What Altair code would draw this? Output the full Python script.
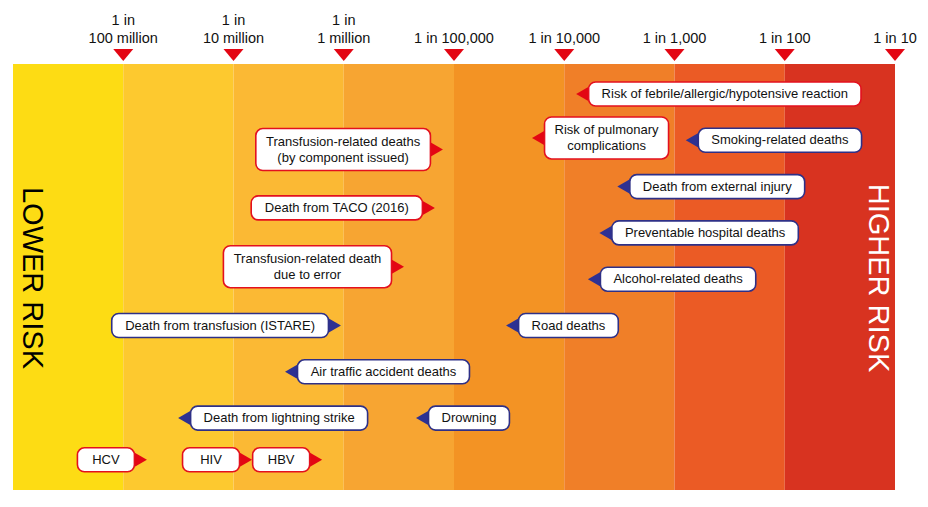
import math
import altair as alt
import pandas as pd

# ------------------------------------------------------------------ data
# axis: risk expressed as "1 in N" (log scale, decades)
tick_one_in = [100_000_000, 10_000_000, 1_000_000, 100_000, 10_000, 1_000, 100, 10]
tick_labels = ["1 in\n100 million", "1 in\n10 million", "1 in\n1 million",
               "1 in 100,000", "1 in 10,000", "1 in 1,000", "1 in 100", "1 in 10"]

# background risk bands (one per decade, 1 in 1e9 .. 1 in 10)
band_from = [1_000_000_000, 100_000_000, 10_000_000, 1_000_000, 100_000, 10_000, 1_000, 100]
band_to = [100_000_000, 10_000_000, 1_000_000, 100_000, 10_000, 1_000, 100, 10]

# annotated risks (value = "1 in N")
risk_labels = [
    "Risk of febrile/allergic/hypotensive reaction",
    "Risk of pulmonary\ncomplications",
    "Smoking-related deaths",
    "Transfusion-related deaths\n(by component issued)",
    "Death from external injury",
    "Death from TACO (2016)",
    "Preventable hospital deaths",
    "Transfusion-related death\ndue to error",
    "Alcohol-related deaths",
    "Death from transfusion (ISTARE)",
    "Road deaths",
    "Air traffic accident deaths",
    "Death from lightning strike",
    "Drowning",
    "HCV",
    "HIV",
    "HBV",
]
risk_one_in = [7_800, 19_600, 790, 126_000, 3_300, 149_000, 4_800, 284_000, 6_100,
               1_060_000, 33_700, 3_410_000, 31_800_000, 221_000,
               61_000_000, 6_790_000, 1_570_000]
risk_group = ["transfusion", "transfusion", "other", "transfusion", "other", "transfusion",
              "other", "transfusion", "other", "other", "other", "other", "other", "other",
              "transfusion", "transfusion", "transfusion"]
risk_pointer = ["left", "left", "left", "right", "left", "right", "left", "right", "left",
                "right", "left", "left", "left", "left", "right", "right", "right"]
# vertical slot (row) of each label
risk_row = [0, 0.95, 1.0, 1.2, 2.0, 2.46, 3.0, 3.73, 4.0, 5.0, 5.0, 6.0, 7.0, 7.0, 7.9, 7.9, 7.9]

# ------------------------------------------------------------------ styles
band_palette = ["#FDDC14", "#FDC92F", "#FBB934", "#F7A532", "#F39324", "#F07F28", "#EB5B25", "#D83320"]
group_stroke = {"transfusion": "#E3101E", "other": "#2E3087"}
group_fill = {"transfusion": "#E30613", "other": "#2E3192"}
FONT = "Liberation Sans"
W, H = 882, 426
PPD = W / 8.0          # pixels per decade
ROW_PX = 46.3          # pixels per row
ROW0 = 30              # pixel offset of row 0 from top
LABEL_FS = 13
LABEL_LH = 16
TICK_FS = 14.5
TICK_LH = 18
GAP = 12.5             # distance pointer tip -> box edge (px)

# Arial/Liberation Sans advance widths (1/1000 em) for box sizing
_w = {' ': 278, '(': 333, ')': 333, '-': 333, '/': 278, ',': 278, '.': 278,
      'A': 667, 'B': 667, 'C': 722, 'D': 722, 'E': 667, 'F': 611, 'G': 778, 'H': 722,
      'I': 278, 'J': 500, 'K': 667, 'L': 556, 'M': 833, 'N': 722, 'O': 778, 'P': 667,
      'Q': 778, 'R': 722, 'S': 667, 'T': 611, 'U': 722, 'V': 667, 'W': 944, 'X': 667,
      'Y': 667, 'Z': 611, 'a': 556, 'b': 556, 'c': 500, 'd': 556, 'e': 556, 'f': 278,
      'g': 556, 'h': 556, 'i': 222, 'j': 222, 'k': 500, 'l': 222, 'm': 833, 'n': 556,
      'o': 556, 'p': 556, 'q': 556, 'r': 333, 's': 500, 't': 278, 'u': 556, 'v': 500,
      'w': 722, 'x': 500, 'y': 500, 'z': 500}


def text_px(s, fs):
    return max(sum(_w.get(c, 556) for c in line) for line in s.split("\n")) * fs / 1000.0


def dec(n):
    return -math.log10(n)


def px_to_row(p):
    return (p - ROW0) / ROW_PX


# ------------------------------------------------------------------ tables
bands = pd.DataFrame({"lo": [dec(v) for v in band_from], "hi": [dec(v) for v in band_to],
                      "color": band_palette})
ticks = pd.DataFrame({
    "lx": [dec(v) for v in tick_one_in],
    "label": tick_labels,
    # last line sits 17px above the band; earlier lines stacked above it
    "ty": [px_to_row(-25 - (lab.count("\n")) * TICK_LH) for lab in tick_labels],
})

rows = []
for lab, n, g, p, r in zip(risk_labels, risk_one_in, risk_group, risk_pointer, risk_row):
    lx = dec(n)
    two = "\n" in lab
    bw = max(text_px(lab, LABEL_FS) + (20 if two else 26), 57)
    if p == "right":
        bx1 = lx - GAP / PPD
        bx0 = bx1 - bw / PPD
        path = "M0,0L-1.73,-1L-1.73,1Z"
    else:
        bx0 = lx + GAP / PPD
        bx1 = bx0 + bw / PPD
        path = "M0,0L1.73,-1L1.73,1Z"
    half = (21 if two else 12) / ROW_PX
    rows.append({"label": lab, "lx": lx, "bx0": bx0, "bx1": bx1, "cx": (bx0 + bx1) / 2,
                 "row": r, "ty": r - (LABEL_LH / 2 if two else 0) / ROW_PX,
                 "y0": r - half, "y1": r + half, "path": path,
                 "stroke": group_stroke[g], "fill": group_fill[g]})
risks = pd.DataFrame(rows)

xscale = alt.Scale(domain=[-9, -1], nice=False, zero=False)
yscale = alt.Scale(domain=[px_to_row(0), px_to_row(H)], reverse=True, nice=False, zero=False)

band_layer = alt.Chart(bands).mark_rect().encode(
    x=alt.X("lo:Q", scale=xscale, axis=None),
    x2="hi:Q",
    y=alt.value(0), y2=alt.value(H),
    color=alt.Color("color:N", scale=None),
)

tick_tri = alt.Chart(ticks).mark_point(
    shape="M-1,-0.6L1,-0.6L0,0.6Z", size=400, filled=True, opacity=1,
    color="#E30613", strokeWidth=0
).encode(x=alt.X("lx:Q", scale=xscale, axis=None), y=alt.value(-9))

tick_text = alt.Chart(ticks).mark_text(
    font=FONT, fontSize=TICK_FS, lineBreak="\n", lineHeight=TICK_LH, baseline="middle",
    align="center", color="#111111"
).encode(x=alt.X("lx:Q", scale=xscale, axis=None),
         y=alt.Y("ty:Q", scale=yscale, axis=None), text="label:N")

pointer = alt.Chart(risks).mark_point(filled=True, size=225, opacity=1, strokeWidth=0).encode(
    x=alt.X("lx:Q", scale=xscale, axis=None),
    y=alt.Y("row:Q", scale=yscale, axis=None),
    shape=alt.Shape("path:N", scale=None),
    color=alt.Color("fill:N", scale=None),
)

boxes = alt.Chart(risks).mark_rect(cornerRadius=7, fill="white", strokeWidth=1.6).encode(
    x=alt.X("bx0:Q", scale=xscale, axis=None), x2="bx1:Q",
    y=alt.Y("y0:Q", scale=yscale, axis=None), y2="y1:Q",
    stroke=alt.Stroke("stroke:N", scale=None),
)

labels = alt.Chart(risks).mark_text(
    font=FONT, fontSize=LABEL_FS, lineBreak="\n", lineHeight=LABEL_LH, baseline="middle",
    align="center", color="#111111"
).encode(
    x=alt.X("cx:Q", scale=xscale, axis=None),
    y=alt.Y("ty:Q", scale=yscale, axis=None),
    text="label:N",
)

side = pd.DataFrame({"t": ["LOWER RISK", "HIGHER RISK"], "c": ["#000000", "#FFFFFF"],
                     "px": [19, 865]})
side_text = alt.Chart(side).mark_text(
    font=FONT, fontSize=29, angle=90, align="center", baseline="middle"
).encode(
    x=alt.X("px:Q", scale=None), y=alt.value(214), text="t:N",
    color=alt.Color("c:N", scale=None),
)

chart = alt.layer(band_layer, tick_tri, tick_text, pointer, boxes, labels, side_text).properties(
    width=W, height=H,
    autosize=alt.AutoSizeParams(type="none"),
    padding={"left": 5, "top": 56, "right": 25, "bottom": 1},
    background="white",
).configure_view(strokeWidth=0)

chart.save("out.html", embed_options={"renderer": "svg", "actions": False})
